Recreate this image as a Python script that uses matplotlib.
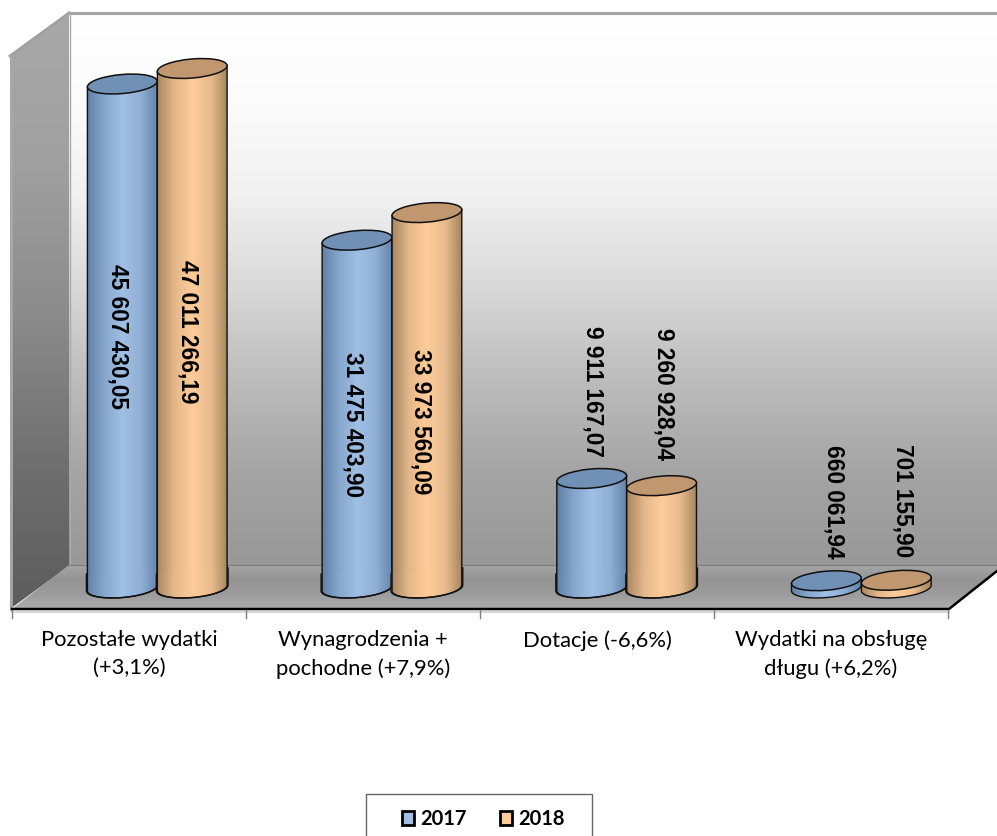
import numpy as np
import matplotlib
matplotlib.use('Agg')
import matplotlib.pyplot as plt
from matplotlib.patches import Ellipse, Polygon, Rectangle
from matplotlib.colors import to_rgb

WIDTH = 997
HEIGHT = 837

categories = ['Pozostałe wydatki\n(+3,1%)', 'Wynagrodzenia +\npochodne (+7,9%)',
              'Dotacje (-6,6%)', 'Wydatki na obsługę\ndługu (+6,2%)']
years = ['2017', '2018']
values_2017 = [45607430.05, 31475403.90, 9911167.07, 660061.94]
values_2018 = [47011266.19, 33973560.09, 9260928.04, 701155.90]
labels_2017 = ['45 607 430,05', '31 475 403,90', '9 911 167,07', '660 061,94']
labels_2018 = ['47 011 266,19', '33 973 560,09', '9 260 928,04', '701 155,90']

# where the rotated labels sit, in pixels
label_x_2017 = [118, 353, 593, 834]
label_x_2018 = [188, 421, 664, 903]
label_y_2017 = [336, 424, 391, 502]
label_y_2018 = [332, 422, 394, 501]

BLUE_BODY = ['#5d7da3', '#86a6cc', '#9fbfe5', '#8fafd5', '#5f7fa5']
ORANGE_BODY = ['#a5835f', '#e3b78a', '#ffcc99', '#e8bc8f', '#a08058']
BLUE_TOP = '#7090b5'
ORANGE_TOP = '#c1976f'
HALF_W = 35
HALF_H = 9.5
TILT = np.deg2rad(-5)
FLOOR_Y = 572


def gradient(colors, n=200):
    stops = np.linspace(0, 1, len(colors))
    rgb = np.array([to_rgb(c) for c in colors])
    pos = np.linspace(0, 1, n)
    return np.stack([np.interp(pos, stops, rgb[:, k]) for k in range(3)], axis=-1)


def ell_point(cx, cy, t, half_w=HALF_W):
    x = cx + half_w * np.cos(t) * np.cos(TILT) - HALF_H * np.sin(t) * np.sin(TILT)
    y = cy + half_w * np.cos(t) * np.sin(TILT) + HALF_H * np.sin(t) * np.cos(TILT)
    return x, y


def to_px(x, v):
    a, b = ax.transData.transform((x, v))
    return a, HEIGHT - b


def fill(canvas, img, x0, x1, y0, y1, clip=None):
    # y0 is the top edge on screen
    im = canvas.imshow(img, extent=(x0, x1, y1, y0), aspect='auto', zorder=canvas.zo,
                       interpolation='bilinear')
    if clip is not None:
        clip.set_transform(canvas.transData)
        im.set_clip_path(clip)
    return im


def body_part(canvas, cx, top_y, bot_y, half_w, body):
    t = np.linspace(np.pi, 0, 60)
    xs, ys = ell_point(cx, bot_y, t, half_w)
    tl = ell_point(cx, top_y, np.pi, half_w)
    tr = ell_point(cx, top_y, 0, half_w)
    pts = np.column_stack([np.r_[tl[0], xs, tr[0]], np.r_[tl[1], ys, tr[1]]])
    img = gradient(body)[np.newaxis, :, :]
    fill(canvas, img, cx - half_w - 1, cx + half_w + 1, top_y - 15, bot_y + 15,
         clip=Polygon(pts, closed=True))
    canvas.plot(pts[:, 0], pts[:, 1], color='#101010', lw=1.0, zorder=canvas.zo + 0.1,
                solid_joinstyle='round')


def cylinder(canvas, x, v, body, top):
    cx, cy = to_px(x, v)
    by = to_px(x, 0)[1]
    canvas.zo += 1
    body_part(canvas, cx, cy, by, HALF_W, body)
    # the part standing on the floor is a touch wider, as in the original
    if cy < FLOOR_Y - 10:
        body_part(canvas, cx, FLOOR_Y, by, HALF_W + 1, body)
    canvas.add_patch(Ellipse((cx, cy), 2 * HALF_W, 2 * HALF_H, angle=np.rad2deg(TILT),
                             fc=top, ec='#101010', lw=1.1, zorder=canvas.zo + 0.2))


fig = plt.figure(figsize=(WIDTH / 100, HEIGHT / 100), dpi=100, facecolor='white')

# value scale: one axes for the data, hidden, chrome is drawn on a pixel canvas above it
ax = fig.add_axes([0, 0, 1, 1])
ax.set_xlim(-0.669, 3.579)
ax.set_ylim(-22.44e6, 53.30e6)
ax.axis('off')

canvas = fig.add_axes([0, 0, 1, 1])
canvas.axis('off')
canvas.patch.set_alpha(0)
canvas.zo = 1

# back wall
wall = gradient(['#ffffff', '#fbfbfb', '#f0f0f0', '#d8d8d8', '#bcbcbc', '#a4a4a4', '#989898'])[:, np.newaxis, :]
fill(canvas, wall, 69, WIDTH, 14, 567)
canvas.plot([69, WIDTH], [14, 14], color='#a6a6a6', lw=2.2, zorder=2)

# side wall
canvas.zo = 2
side = gradient(['#a8a8a8', '#a0a0a0', '#8c8c8c', '#707070', '#5c5c5c'])[:, np.newaxis, :]
fill(canvas, side, 10, 69, 14, 610,
     clip=Polygon([(10, 57), (69, 14), (69, 567), (10, 610)], closed=True))
canvas.plot([10, 69], [57, 14], color='#a0a0a0', lw=2, zorder=3)
canvas.plot([11, 11], [57, 610], color='#a8a8a8', lw=2, zorder=3)
canvas.plot([69.5, 69.5], [14, 567], color='#a8a8a8', lw=1, zorder=3)

# floor
canvas.zo = 3
floor = gradient(['#a6a6a6', '#949494', '#9c9c9c', '#adadad'])[:, np.newaxis, :]
fill(canvas, floor, 10, WIDTH, 566, 610,
     clip=Polygon([(69, 566), (WIDTH, 566), (WIDTH, 572), (949, 610), (12, 610)], closed=True))
canvas.plot([69, WIDTH], [566, 566], color='#7c7c7c', lw=0.8, zorder=3.5)
canvas.plot([12, 949, WIDTH], [610, 610, 572], color='black', lw=1.8, zorder=4)
canvas.plot([12, 949], [612.5, 612.5], color='#d8d8d8', lw=1.5, zorder=3.5)
tick_px = np.linspace(12, 948, 5)
for tick in tick_px:
    canvas.plot([tick, tick], [611, 619], color='#808080', lw=1, zorder=4)

# cylinders
canvas.zo = 5
for i in range(len(categories)):
    cylinder(canvas, i - 0.148, values_2017[i], BLUE_BODY, BLUE_TOP)
    cylinder(canvas, i + 0.15, values_2018[i], ORANGE_BODY, ORANGE_TOP)

for i in range(len(categories)):
    canvas.text(label_x_2017[i], label_y_2017[i], labels_2017[i], rotation=270, ha='center', va='center',
                fontsize=16.3, fontweight='bold', family='Liberation Sans', zorder=40)
    canvas.text(label_x_2018[i], label_y_2018[i], labels_2018[i], rotation=270, ha='center', va='center',
                fontsize=16.3, fontweight='bold', family='Liberation Sans', zorder=40)
    canvas.text((tick_px[i] + tick_px[i + 1]) / 2, 630, categories[i], ha='center', va='top', fontsize=15.8,
                family='Lato', linespacing=1.5, zorder=40)

# legend
canvas.add_patch(Rectangle((366, 795), 226, 60, fc='white', ec='#666666', lw=1, zorder=50))
for sq_x, txt_x, color, year in zip([401, 499], [420, 518], ['#9fbfe5', '#ffcc99'], years):
    canvas.add_patch(Rectangle((sq_x + 1, 812), 12, 14, fc=color, ec='black', lw=2, zorder=51))
    canvas.text(txt_x, 819, year, ha='left', va='center', fontsize=14.5, fontweight='bold',
                family='Lato', zorder=51)

canvas.set_xlim(0, WIDTH)
canvas.set_ylim(HEIGHT, 0)
fig.savefig('out.png', dpi=100)
